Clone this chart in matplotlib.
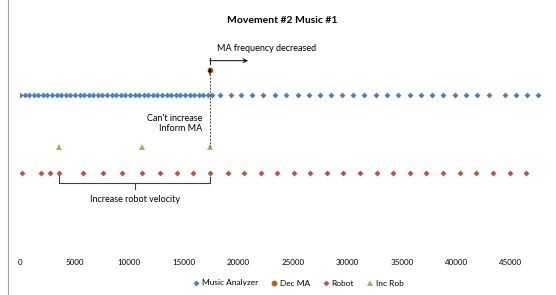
import matplotlib.pyplot as plt
from matplotlib.lines import Line2D

# time stamps (ms)
ma_x = [0, 420, 840, 1260, 1680, 2100, 2520, 2940, 3360, 3780, 4200, 4620, 5040, 5460,
        5880, 6300, 6720, 7140, 7560, 7980, 8400, 8820, 9240, 9660, 10080, 10500, 10920,
        11340, 11760, 12180, 12600, 13020, 13440, 13860, 14280, 14700, 15120, 15540,
        15960, 16380, 16800, 17220, 17640,
        18300, 19300, 20300, 21300, 22300, 23350, 24400, 25450, 26450, 27500, 28500,
        29500, 30550, 31550, 32600, 33600, 34650, 35700, 36750, 37750, 38800, 39850,
        40850, 41900, 42950, 44450, 45450, 46450, 47450]
robot_x = [180, 1950, 2780, 3600, 5800, 7600, 9380, 11180, 12830, 14360, 15880, 17410,
           19040, 20560, 22090, 23600, 25110, 26610, 28140, 29630, 31160, 32690, 34190,
           35720, 37240, 38770, 40300, 41820, 43350, 44910, 46400]
dec_ma_x = [17410]
inc_rob_x = [3600, 11180, 17410]

ma_level = 2
robot_level = 1
dec_ma_level = 2.32
inc_rob_level = 1.33

xticks = [0, 5000, 10000, 15000, 20000, 25000, 30000, 35000, 40000, 45000]

plt.rcParams['font.family'] = ['Lato', 'DejaVu Sans']

fig = plt.figure(figsize=(5.56, 2.95), dpi=100)
ax = fig.add_axes([20/556, 44/295, 523.7/556, 234/295])

ax.plot(ma_x, [ma_level]*len(ma_x), 'D', color='#4F81BD', markersize=3.0,
        markeredgewidth=0, label="Music Analyzer")
ax.plot(dec_ma_x, [dec_ma_level], 'o', color='#C0600A', markersize=4.2,
        markeredgewidth=0, label="Dec MA", zorder=3)
ax.plot(robot_x, [robot_level]*len(robot_x), 'D', color='#C0504D', markersize=3.0,
        markeredgewidth=0, label="Robot")
ax.plot(inc_rob_x, [inc_rob_level]*len(inc_rob_x), '^', color='#9BBB59', markersize=4.0,
        markeredgewidth=0, label="Inc Rob")

# dashed link between inc rob and dec ma
ax.plot([dec_ma_x[0]]*2, [inc_rob_level, dec_ma_level - 0.05], '--', color='#444444',
        lw=0.7, dashes=(2, 1.5), zorder=2)
ax.annotate("", xy=(dec_ma_x[0], dec_ma_level + 0.03), xytext=(dec_ma_x[0], dec_ma_level - 0.06),
            arrowprops=dict(arrowstyle='-|>', color='black', lw=0.7, mutation_scale=5,
                            shrinkA=0, shrinkB=0), zorder=4)

# MA frequency decreased arrow
ax.annotate("", xy=(20900, 2.44), xytext=(dec_ma_x[0], 2.44),
            arrowprops=dict(arrowstyle='->', color='black', lw=0.7, mutation_scale=7,
                            shrinkA=0, shrinkB=0))
ax.plot([dec_ma_x[0]]*2, [2.40, 2.48], color='black', lw=0.7)
ax.text(18050, 2.60, "MA frequency decreased", fontsize=6.5, ha='left', va='center')

ax.text(16680, 1.635, "Can't increase\nInform MA", fontsize=6.5, ha='right', va='center',
        linespacing=1.25)

# bracket under robot row
bx0, bx1 = inc_rob_x[0], inc_rob_x[-1]
bmid = (bx0 + bx1) / 2
ax.plot([bx0, bx0, bx1, bx1], [0.97, 0.875, 0.875, 0.95], color='#404040', lw=0.8)
ax.plot([bmid, bmid], [0.875, 0.80], color='#404040', lw=0.8)
ax.text(bmid, 0.665, "Increase robot velocity", fontsize=6.5, ha='center', va='center')

ax.set_xlim(0, 48000)
ax.set_ylim(0, 3)
ax.set_xticks(xticks)
ax.set_xticklabels([str(t) for t in xticks], fontsize=5.8)
ax.tick_params(axis='x', length=0, pad=6)
ax.set_yticks([])
for s in ax.spines.values():
    s.set_visible(False)

ax.text(0.5, 0.983, "Movement #2 Music #1", transform=ax.transAxes, fontsize=7.5,
        fontweight='bold', ha='center', va='center')

fig.legend(loc='center', bbox_to_anchor=(298/556, 12/295), ncol=4, frameon=False,
           fontsize=6, handlelength=0.8, handletextpad=0.3, columnspacing=1.5,
           markerscale=1.0)

fig.add_artist(Line2D([8/556, 8/556], [0, 1], color='#a6a6a6', lw=0.8))

fig.savefig("out.png", dpi=100)
